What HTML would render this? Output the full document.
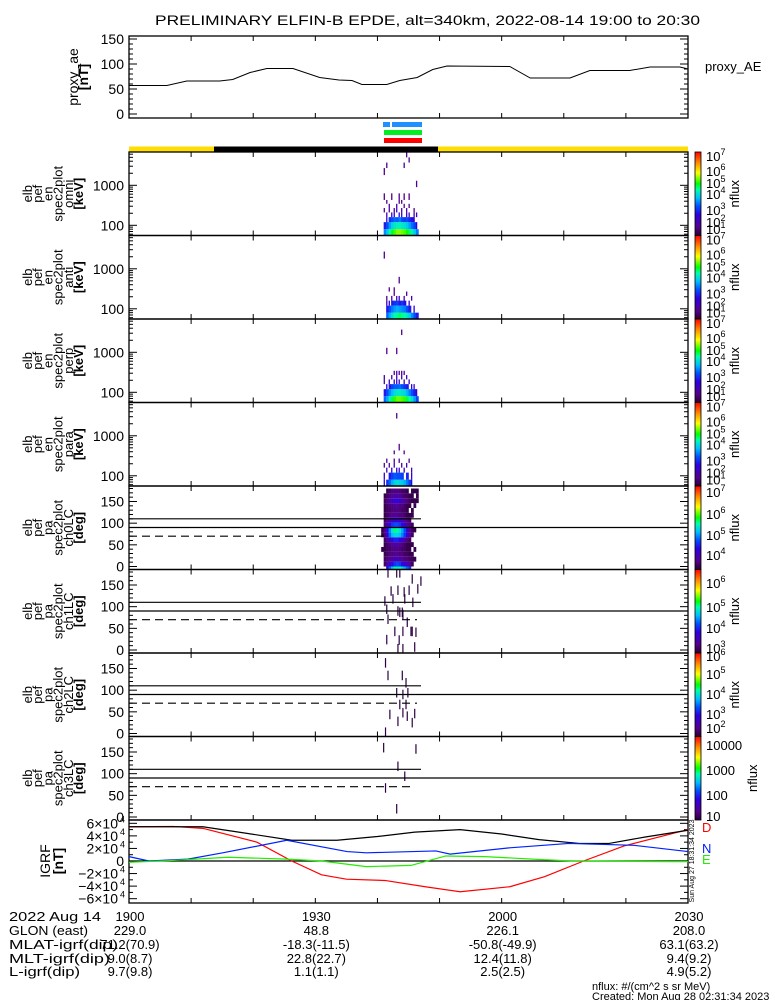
<!DOCTYPE html>
<html><head><meta charset="utf-8"><style>
html,body{margin:0;padding:0;background:#fff}
svg{display:block}
text{font-family:"Liberation Sans",sans-serif;fill:#000}
</style></head><body>
<svg id="chart" width="775" height="1000" viewBox="0 0 775 1000" xmlns="http://www.w3.org/2000/svg">
<text x="155" y="25" font-size="14" textLength="545" lengthAdjust="spacingAndGlyphs">PRELIMINARY ELFIN-B EPDE, alt=340km, 2022-08-14 19:00 to 20:30</text>
<g id="g"></g>
</svg>
<script>
// ---------- data ----------
const aeTimes=[0,6.1,9.3,14.6,16.7,19.5,22.2,26.4,30.7,33.8,35.9,37.5,41.5,43.6,46.4,48.9,51.2,61.3,64.6,71,74.2,80.6,83.9,88.7,90];
const aeValues=[57,57,66,66,69,83,91,91,73,68,67,59,59,67,73,89,96,95,72,72,87,87,94,94,90];
const aeTicks=[0,50,100,150];
const aeTickLabels=["0","50","100","150"];

const igrfTotalTimes=[0,11.9,19,26.2,33.5,40,46,53.3,60,66,72.5,77.3,83,90];
const igrfTotal=[5.45,5.45,4.4,3.3,3.3,3.9,4.6,5.0,4.3,3.4,2.8,2.8,3.8,4.9];
const igrfDTimes=[0,7.1,11.9,20.6,26.2,31,35,41.2,47.7,53.3,61.3,66.9,73.2,79.7,90];
const igrfD=[5.45,5.5,5.2,3.0,0,-2.2,-2.9,-3.1,-4.1,-4.9,-4.1,-2.5,0,2.4,5.0];
const igrfNTimes=[0,3.2,9.5,15.1,25.4,35.1,38.2,49.4,51.7,61.3,70.8,81.3,90];
const igrfN=[0.7,0,0.3,1.3,3.3,1.5,1.3,1.6,1.1,2.1,2.8,2.5,1.5];
const igrfETimes=[0,6.3,15.9,25.4,31,38.2,45.4,51.0,57.3,66.9,71.6,87.6,90];
const igrfE=[-0.2,0.05,0.6,0.3,0,-0.9,-0.7,0.8,0.7,0.2,0,-0.1,-0.1];
const igrfTickVals=[6,4,2,0,-2,-4,-6];

const timeTickMins=[0,10,20,30,40,50,60,70,80,90];
const rowTimes=["1900","1930","2000","2030"];
const rowTimeMins=[0,30,60,90];
const glonRow=["229.0","48.8","226.1","208.0"];
const mlatRow=["71.2(70.9)","-18.3(-11.5)","-50.8(-49.9)","63.1(63.2)"];
const mltRow=["9.0(8.7)","22.8(22.7)","12.4(11.8)","9.4(9.2)"];
const lRow=["9.7(9.8)","1.1(1.1)","2.5(2.5)","4.9(5.2)"];

// spectrogram time grid (minutes after 19:00)
const specT0=40.6, specDt=0.4;
const energyEdges=[55,80,120,160,210,270,345,430,630,900,1300,1800,2700,3700,5000,7000];
const omniRows=[
[0,3.4,3.8,4.3,4.7,5.0,5.2,5.2,5.1,5.0,4.8,4.5,4.2,3.8,3.3,0],
[0,2.6,3.0,3.5,3.9,4.1,4.2,4.2,4.1,4.0,3.8,3.5,3.2,2.9,2.4,0],
[0,0,2.4,2.8,3.0,3.2,3.1,3.3,3.0,2.9,3.0,2.7,2.5,2.2,0,0],
[0,0,1.8,0,2.0,2.2,0,2.4,2.1,0,2.3,1.9,0,2.0,1.8,0],
[0,1.6,0,1.8,0,1.9,2.0,0,1.8,0,1.7,0,0,1.6,0,0],
[0,0,0,1.6,0,0,1.7,0,0,1.6,0,1.5,0,0,0,0],
[0,0,1.5,0,0,0,0,1.5,1.5,0,0,0,0,0,0,0],
[0,1.5,0,0,1.5,0,0,1.5,0,1.5,0,1.5,0,0,0,0],
[0,0,0,0,0,0,0,0,0,0,0,0,0,0,0,0],
[0,0,0,0,0,0,0,0,0,0,0,0,0,0,1.5,0],
[0,0,0,0,0,0,0,0,0,0,0,0,0,0,0,0],
[0,1.5,0,0,0,0,0,0,0,0,0,0,0,0,0,0],
[0,0,1.5,0,0,0,0,0,0,1.5,0,0,0,0,0,0],
[0,0,0,0,0,0,0,0,0,0,0,1.5,0,0,0,0],
[0,0,0,0,0,0,0,0,0,0,1.5,0,0,0,0,0]];
const antiRows=[
[0,0,3.2,3.6,4.0,4.3,4.4,4.5,4.4,4.3,4.1,3.8,3.4,3.0,2.6,0],
[0,0,2.6,3.0,3.3,3.5,3.6,3.5,3.4,3.3,3.0,2.6,0,2.4,0,0],
[0,0,2.0,2.4,2.6,2.8,2.9,2.6,2.8,2.5,0,2.2,0,0,0,0],
[0,0,1.6,0,2.0,0,1.8,2.2,0,1.9,0,0,2.0,0,0,0],
[0,0,0,0,0,1.6,0,0,0,0,1.5,0,0,0,0,0],
[0,0,0,1.5,0,1.5,0,0,0,0,0,0,0,0,0,0],
[0,0,0,0,0,0,0,0,0,0,0,0,0,0,0,0],
[0,0,0,0,0,0,0,1.5,0,0,0,0,0,0,0,0],
[0,0,0,0,0,0,0,0,0,0,0,0,0,0,0,0],
[0,0,0,0,0,0,0,0,0,0,0,0,0,0,0,0],
[0,0,0,0,0,0,0,0,0,0,0,0,0,0,0,0],
[0,1.5,0,0,0,0,0,0,0,0,0,0,0,0,0,0],
[0,0,0,0,0,0,0,0,0,0,0,0,0,0,0,0],
[0,0,0,0,0,0,0,0,0,0,0,0,0,0,0,0],
[0,0,0,0,0,0,0,0,0,0,0,0,0,0,0,0]];
const perpRows=[
[0,3.2,3.6,4.2,4.6,4.9,5.1,5.1,5.0,4.9,4.6,4.3,4.0,3.5,3.0,0],
[0,2.6,3.0,3.4,3.7,4.0,4.1,4.1,4.0,3.9,3.6,3.3,3.0,2.6,2.3,0],
[0,0,2.4,2.6,2.9,3.1,3.1,3.2,3.0,2.8,2.6,0,2.4,2.2,0,0],
[0,1.8,0,2.0,0,2.2,2.4,2.2,0,2.0,0,2.0,0,0,0,0],
[0,1.7,0,0,2.0,0,1.8,0,2.0,0,2.0,0,0,0,0,0],
[0,0,0,0,0,1.6,1.7,1.6,1.6,1.5,0,0,0,0,0,0],
[0,0,0,0,0,0,0,0,0,0,0,0,0,0,0,0],
[0,0,0,0,0,0,0,0,0,0,0,0,0,0,0,0],
[0,0,0,0,0,0,0,0,0,0,0,0,0,0,0,0],
[0,0,1.5,0,0,0,1.5,0,0,0,0,0,0,0,0,0],
[0,0,0,0,0,0,0,0,0,0,0,0,0,0,0,0],
[0,0,0,0,0,0,0,0,0,0,0,0,0,0,0,0],
[0,0,0,0,0,0,0,0,1.5,0,0,0,0,0,0,0],
[0,0,0,0,0,0,0,0,0,0,0,0,0,0,0,0],
[0,0,0,0,0,0,0,0,0,0,0,0,0,0,0,0]];
const paraRows=[
[0,2.4,2.8,3.2,3.6,3.9,4.0,3.9,3.8,3.6,3.3,2.9,2.4,0,0,0],
[0,2.2,0,2.6,2.9,3.1,3.0,3.0,2.9,0,2.7,0,2.2,0,0,0],
[0,0,2.0,0,2.4,0,2.3,2.4,0,2.2,0,0,2.0,0,0,0],
[0,1.8,0,1.8,0,2.0,0,0,1.8,0,1.8,0,0,0,0,0],
[0,0,1.6,0,0,1.6,0,1.6,0,0,0,1.6,0,0,0,0],
[0,0,0,0,0,0,0,0,0,0,0,0,0,0,0,0],
[0,0,0,0,0,1.5,0,0,0,1.5,0,0,0,0,0,0],
[0,0,0,0,0,0,0,1.5,0,0,0,0,0,0,0,0],
[0,0,0,0,0,0,0,0,0,0,0,0,0,0,0,0],
[0,0,0,0,0,0,0,0,0,0,0,0,0,0,0,0],
[0,0,0,0,0,0,0,0,0,0,0,0,0,0,0,0],
[0,0,0,0,0,0,0,0,0,0,0,0,0,0,0,0],
[0,0,0,0,0,0,1.5,0,0,0,0,0,0,0,0,0],
[0,0,0,0,0,0,0,0,0,0,0,0,0,0,0,0],
[0,0,0,0,0,0,0,0,0,0,0,0,0,0,0,0]];
const paEdges=[-11.25,0,11.25,22.5,33.75,45,56.25,67.5,78.75,90,101.25,112.5,123.75,135,146.25,157.5,168.75,180];
const ch0Rows=[
[0,0,4.6,5.0,5.3,5.6,5.5,5.6,5.4,5.2,5.0,4.8,0,0,0,0],
[0,3.9,4.2,4.4,4.6,4.8,4.9,4.8,4.6,4.5,4.3,4.1,3.9,0,0,0],
[0,3.9,4.0,4.1,4.2,4.3,4.3,4.2,4.1,4.0,4.0,3.9,3.9,3.8,0,0],
[0,3.8,3.9,4.0,4.0,4.1,4.1,4.0,4.0,3.9,3.9,3.8,3.8,0,0,0],
[3.8,3.8,3.9,3.9,4.0,4.0,4.0,4.0,3.9,3.9,3.8,3.8,0,3.8,0,0],
[0,3.8,3.9,4.0,4.1,4.2,4.2,4.1,4.0,3.9,3.8,3.8,3.8,0,0,0],
[0,3.9,4.1,4.4,4.6,4.7,4.7,4.6,4.4,4.2,4.0,3.9,0,0,0,0],
[3.8,4.0,4.5,5.0,5.3,5.4,5.4,5.3,5.1,4.8,4.5,4.1,3.9,0,0,0],
[3.8,4.1,4.6,5.1,5.5,5.7,5.6,5.5,5.2,4.9,4.5,4.1,3.9,3.8,0,0],
[0,4.0,4.3,4.6,4.8,4.9,4.9,4.8,4.6,4.4,4.2,4.0,3.9,0,0,0],
[0,3.9,4.1,4.3,4.4,4.5,4.5,4.4,4.3,4.2,4.0,3.9,0,0,0,0],
[0,3.8,3.9,4.0,4.1,4.1,4.1,4.0,4.0,3.9,3.8,3.8,3.8,0,0,0],
[0,3.8,3.9,3.9,4.0,4.0,4.0,4.0,3.9,3.9,3.8,0,3.8,0,0,0],
[0,3.8,3.9,4.0,4.0,4.1,4.1,4.0,4.0,3.9,3.8,3.8,0,3.8,0,0],
[0,3.9,4.0,4.2,4.4,4.5,4.5,4.4,4.3,4.1,4.0,3.9,3.8,3.8,3.8,0],
[0,3.8,3.9,4.0,4.1,4.2,4.2,4.1,4.0,3.9,3.9,3.8,3.8,0,3.8,0],
[0,0,3.8,3.9,4.0,4.0,4.0,4.0,3.9,3.9,3.8,0,3.8,3.8,3.8,0]];
// sparse sticks: time (min), pitch angle centre (deg)
const ch1StickTimes=[41.7,43.1,43.6,45.6,47.0,42.2,43.3,44.3,45.1,46.5,41.2,42.5,44.4,45.7,41.5,41.7,43.3,43.6,44.0,44.1,44.8,42.8,44.1,45.4,45.6,46.2,41.5,43.5,43.3,44.1,46.0];
const ch1StickPA=[178,178,178,164,159,136,138,134,138,141,113,118,118,110,94,71,90,87,87,82,64,43,43,43,43,41,24,23,3,3,7];
const ch2StickTimes=[41.3,41.7,44.0,44.6,43.1,44.1,44.9,43.6,44.6,42.0,43.3,44.1,44.8,46.0,45.6,41.3];
const ch2StickPA=[163,134,134,117,94,90,94,67,67,44,28,48,40,46,25,3];
const ch3StickTimes=[41.0,46.2,43.3,44.4,41.3,43.1];
const ch3StickPA=[160,157,117,94,67,19];

// ---------- helpers ----------
const NS="http://www.w3.org/2000/svg";
const G=document.getElementById('g');
const X0=129,X1=688;
function X(t){return X0+t*(X1-X0)/90;}
function mk(tag,attrs,parent){const e=document.createElementNS(NS,tag);for(const k in attrs)e.setAttribute(k,attrs[k]);(parent||G).appendChild(e);return e;}
function txt(s,x,y,size,anchor,parent,extra){const e=mk('text',Object.assign({x:x,y:y,'font-size':size,'text-anchor':anchor||'start'},extra||{}),parent);e.textContent=s;return e;}
const stops=[[0,[40,0,50]],[0.1,[85,0,140]],[0.25,[45,0,225]],[0.35,[0,80,255]],[0.45,[0,190,255]],[0.55,[0,255,170]],[0.62,[0,255,0]],[0.75,[255,255,0]],[0.87,[255,140,0]],[1,[255,0,0]]];
function cmap(f){f=Math.max(0,Math.min(1,f));for(let i=1;i<stops.length;i++){if(f<=stops[i][0]){const a=stops[i-1],b=stops[i];const u=(f-a[0])/(b[0]-a[0]);const c=a[1].map((v,k)=>Math.round(v+(b[1][k]-v)*u));return 'rgb('+c.join(',')+')';}}return 'rgb(255,0,0)';}

// ---------- proxy AE panel ----------
const aeTop=36,aeBot=118;
function yAE(v){return 114-v*0.5;}
const aeg=mk('g',{});


mk('rect',{x:X0,y:aeTop,width:X1-X0,height:aeBot-aeTop,fill:'none',stroke:'#000','stroke-width':1.3},aeg);
for(let v=0;v<=150;v+=10){const L=(v%50===0)?8:4;mk('line',{x1:X0,x2:X0+L,y1:yAE(v),y2:yAE(v),stroke:'#000'},aeg);mk('line',{x1:X1,x2:X1-L,y1:yAE(v),y2:yAE(v),stroke:'#000'},aeg);}
aeTicks.forEach((v,i)=>{const t=txt(aeTickLabels[i],124,yAE(v)+5,14,'end',aeg);});
timeTickMins.forEach(m=>{mk('line',{x1:X(m),x2:X(m),y1:aeBot,y2:aeBot-5,stroke:'#000'},aeg);mk('line',{x1:X(m),x2:X(m),y1:aeTop,y2:aeTop+5,stroke:'#000'},aeg);});
const aePath=mk('polyline',{points:aeTimes.map((t,i)=>X(t)+','+yAE(aeValues[i])).join(' '),fill:'none',stroke:'#000','stroke-width':1},aeg);


const aeT=mk('g',{transform:'translate(78,77) rotate(-90)'},aeg);


txt('proxy_ae',0,0,14,'middle',aeT);txt('[nT]',0,10,14,'middle',aeT,{'font-weight':'bold'});
const aeR=txt('proxy_AE',705,71,13,'start',aeg);



// ---------- indicator bars ----------
const bars=[[383,390,122,'#1e90ff'],[392,422,122,'#1e90ff'],[384,422,130,'#00ee22'],[384,422,138,'#ff0000']];
bars.forEach(b=>{const r=mk('rect',{x:b[0],y:b[2],width:b[1]-b[0],height:5,fill:b[3]});});
const sun1=mk('rect',{x:X0,y:146.5,width:X1-X0,height:5.5,fill:'#ffdd00'});


const sh=mk('rect',{x:214,y:146.5,width:224,height:5.5,fill:'#000'});



// ---------- spectrogram panels ----------
const PH=83.5, P0=152;
const panels=[
 {rows:omniRows,kind:'E',lab:'omni',rng:[0.8,7.2]},
 {rows:antiRows,kind:'E',lab:'anti',rng:[0.8,7.2]},
 {rows:perpRows,kind:'E',lab:'perp',rng:[0.8,7.2]},
 {rows:paraRows,kind:'E',lab:'para',rng:[0.8,7.2]},
 {rows:ch0Rows,kind:'P',lab:'ch0LC',rng:[3.7,7.2]},
 {st:[ch1StickTimes,ch1StickPA],kind:'P',lab:'ch1LC',rng:[2.8,6.5]},
 {st:[ch2StickTimes,ch2StickPA],kind:'P',lab:'ch2LC',rng:[1.8,6.5]},
 {st:[ch3StickTimes,ch3StickPA],kind:'P',lab:'ch3LC',rng:[0.9,4.3]}];
const cbLabels=[
 [['10','7',156],['10','6',171],['10','5',183],['10','4',194],['10','3',210],['10','2',222],['10','1',229]],
 null,null,null,
 [['10','7',492],['10','6',514],['10','5',535],['10','4',555]],
 [['10','6',583],['10','5',607],['10','4',628],['10','3',648]],
 [['10','6',656],['10','5',674],['10','4',694],['10','3',714],['10','2',728]],
 [['10000','',745],['1000','',770],['100','',795],['10','',816]]];
panels.forEach((p,i)=>{
  const T=P0+i*PH, B=T+PH;
  const pg=mk('g',{});
  
  
  const yE=E=>T+73.3-(Math.log10(E)-2)*40;
  const yP=a=>T+80.5-a*0.4333;
  const nf=v=>(v-p.rng[0])/(p.rng[1]-p.rng[0]);
  if(p.rows){
    p.rows.forEach((row,r)=>{
      let y1,y2;
      if(p.kind==='E'){y1=yE(energyEdges[r+1]);y2=yE(energyEdges[r]);}
      else{y1=yP(paEdges[r+1]);y2=yP(paEdges[r]);}
      y1=Math.max(y1,T);y2=Math.min(y2,B);
      row.forEach((v,c)=>{if(!v)return;
        const x1=X(specT0+c*specDt),x2=X(specT0+(c+1)*specDt);
        const w=(p.kind==='E'&&v<2.5)?1.3:(x2-x1+0.3);
        const cell=mk('rect',{x:x1,y:y1,width:w,height:y2-y1,fill:cmap(nf(v))},pg);
        
        
      });
    });
  }
  if(p.st){
    p.st[0].forEach((t,k)=>{const a=p.st[1][k];
      const s=mk('line',{x1:X(t),x2:X(t),y1:Math.max(T,yP(a+11)),y2:Math.min(B,yP(a-11)),stroke:'#2a0040','stroke-width':1.2},pg);
      
      
    });
  }
  mk('rect',{x:X0,y:T,width:X1-X0,height:PH,fill:'none',stroke:'#000','stroke-width':1.3},pg);
  timeTickMins.forEach(m=>{mk('line',{x1:X(m),x2:X(m),y1:B,y2:B-5,stroke:'#000'},pg);mk('line',{x1:X(m),x2:X(m),y1:T,y2:T+5,stroke:'#000'},pg);});
  if(p.kind==='E'){
    for(let d=1;d<=3;d++)for(let k=1;k<=9;k++){const E=k*Math.pow(10,d);const y=yE(E);if(y<T||y>B)continue;const L=k===1?8:4;
      mk('line',{x1:X0,x2:X0+L,y1:y,y2:y,stroke:'#000'},pg);mk('line',{x1:X1,x2:X1-L,y1:y,y2:y,stroke:'#000'},pg);}
    txt('1000',124,yE(1000)+5,14,'end',pg);txt('100',124,yE(100)+5,14,'end',pg);
  } else {
    for(let a=0;a<=180;a+=10){const y=yP(a);if(y<T)continue;const L=(a%50===0)?8:4;
      mk('line',{x1:X0,x2:X0+L,y1:y,y2:y,stroke:'#000'},pg);mk('line',{x1:X1,x2:X1-L,y1:y,y2:y,stroke:'#000'},pg);}
    [0,50,100,150].forEach(a=>txt(String(a),124,yP(a)+5,14,'end',pg));
    const lc=mk('line',{x1:X0,x2:421,y1:yP(110),y2:yP(110),stroke:'#000','stroke-width':1.2},pg);
    
    const pl=mk('line',{x1:X0,x2:X1,y1:yP(90),y2:yP(90),stroke:'#000','stroke-width':1.2},pg);
    
    const al=mk('line',{x1:X0,x2:i===4?386:(i===7?413:417),y1:yP(70),y2:yP(70),stroke:'#000','stroke-width':1.2,'stroke-dasharray':'8,5'},pg);
    
  }
  const lines=['elb','pef',p.kind==='E'?'en':'pa','spec2plot',p.lab,p.kind==='E'?'[keV]':'[deg]'];
  const tg=mk('g',{},pg);
  
  
  lines.forEach((s,k)=>{const e=txt(s,0,0,13,'middle',tg,{transform:'translate('+(32+k*10.2)+','+(T+PH/2)+') rotate(-90)'});if(k===5)e.setAttribute('font-weight','bold');});
  const gid='cb'+i;
  const defs=mk('defs',{},pg);
  const lg=mk('linearGradient',{id:gid,x1:0,y1:1,x2:0,y2:0},defs);
  stops.forEach(s=>mk('stop',{offset:s[0],'stop-color':'rgb('+s[1].join(',')+')'},lg));
  const cb=mk('rect',{x:695,y:T,width:6,height:PH,fill:'url(#'+gid+')',stroke:'#000','stroke-width':0.8},pg);
  
  
  const labs=cbLabels[i]||cbLabels[0].map(l=>[l[0],l[1],l[2]+i*PH]);
  labs.forEach(l=>{const e=txt(l[0],706,l[2]+5,13,'start',pg);if(l[1]){const ts=document.createElementNS(NS,'tspan');ts.setAttribute('dy','-6');ts.setAttribute('font-size','9');ts.textContent=l[1];e.appendChild(ts);}});
  const nfx=txt('nflux',0,0,13,'middle',pg,{transform:'translate('+(i===7?757:739)+','+(T+PH/2)+') rotate(-90)'});
  
  
});

// ---------- IGRF panel ----------
const iT=820,iB=903;
function yB(b){return 861-b*6.28;}
const ig=mk('g',{});


mk('rect',{x:X0,y:iT,width:X1-X0,height:iB-iT,fill:'none',stroke:'#000','stroke-width':1.3},ig);
mk('line',{x1:X0,x2:X1,y1:yB(0),y2:yB(0),stroke:'#000','stroke-width':1.2},ig);
for(let b=-6;b<=6;b+=1){const L=(b%2===0)?8:4;mk('line',{x1:X0,x2:X0+L,y1:yB(b),y2:yB(b),stroke:'#000'},ig);mk('line',{x1:X1,x2:X1-L,y1:yB(b),y2:yB(b),stroke:'#000'},ig);}
timeTickMins.forEach(m=>{mk('line',{x1:X(m),x2:X(m),y1:iB,y2:iB-5,stroke:'#000'},ig);});
igrfTickVals.forEach(v=>{
  if(v===0){txt('0',124,yB(0)+5,14,'end',ig);return;}
  txt((v<0?'\u2212':'')+Math.abs(v)+'\u00d710',118,yB(v)+5,14,'end',ig);
  txt('4',125,yB(v)-1,9,'end',ig);
});
const series=[[igrfDTimes,igrfD,'#ff0000','igrf-d-line'],[igrfTotalTimes,igrfTotal,'#000','igrf-total-line'],[igrfNTimes,igrfN,'#0022ff','igrf-n-line'],[igrfETimes,igrfE,'#22ee00','igrf-e-line']];
series.forEach(s=>{const pl=mk('polyline',{points:s[0].map((t,i)=>X(t)+','+yB(s[1][i])).join(' '),fill:'none',stroke:s[2],'stroke-width':1.2},ig);
  });
const igT=mk('g',{},ig);


txt('IGRF',0,0,14,'middle',igT,{transform:'translate(50,861) rotate(-90)'});
txt('[nT]',0,0,14,'middle',igT,{transform:'translate(63,861) rotate(-90)','font-weight':'bold'});
[['D','#ff0000',832],['N','#0022ff',853],['E','#22ee00',864]].forEach(l=>{const e=txt(l[0],702,l[2],13,'start',ig,{style:'fill:'+l[1]});});
txt('Sun Aug 27 18:31:34 2023',0,0,7,'middle',ig,{transform:'translate(694,861) rotate(-90)'});

// ---------- bottom annotation rows ----------
const ann=mk('g',{});


const rowY=[921,935,949,963,976];
const rowLabels=['2022 Aug 14','GLON (east)','MLAT-igrf(dip)','MLT-igrf(dip)','L-igrf(dip)'];
const rowLabelW=[92,79,109,101,71];
const rowVals=[rowTimes,glonRow,mlatRow,mltRow,lRow];
rowLabels.forEach((s,r)=>{txt(s,9,rowY[r],13,'start',ann,{textLength:rowLabelW[r],lengthAdjust:'spacingAndGlyphs'});
  rowVals[r].forEach((v,k)=>txt(v,X(rowTimeMins[k])+1,rowY[r],13,'middle',ann));});
txt('nflux: #/(cm^2 s sr MeV)',592,990,11,'start',ann);
txt('Created: Mon Aug 28 02:31:34 2023',592,1000,11,'start',ann);
</script>
</body></html>
